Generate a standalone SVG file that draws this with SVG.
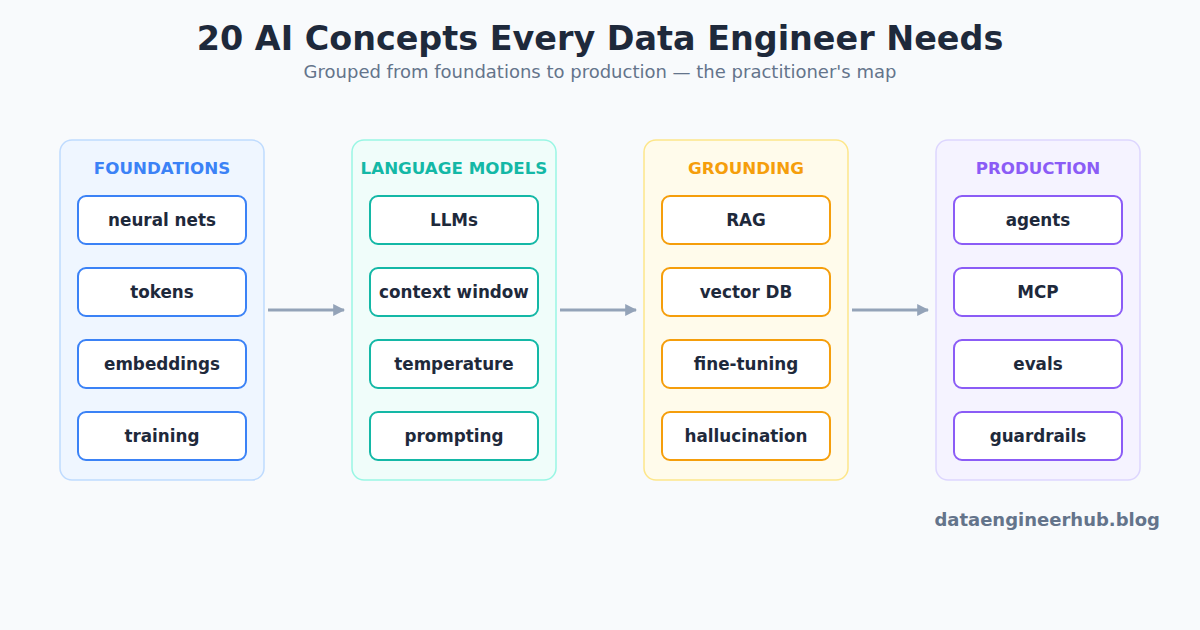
<svg xmlns="http://www.w3.org/2000/svg" width="1200" height="630" viewBox="0 0 1200 630">
<defs>
<marker id="arr" viewBox="0 0 10 10" refX="9" refY="5" markerWidth="4" markerHeight="4" orient="auto"><path d="M0,0 L10,5 L0,10 z" fill="#94a3b8"/></marker>
<style>
text{font-family:"DejaVu Sans","Noto Sans",sans-serif;text-anchor:middle}
.title{font-size:33.4px;font-weight:bold;fill:#1e293b}
.sub{font-size:18px;fill:#64748b}
.hdr{font-size:16.7px;font-weight:bold}
.lbl{font-size:16.8px;font-weight:bold;fill:#1e293b}
.col{stroke-width:1.5}
.item{fill:#ffffff;stroke-width:2}
.conn{stroke:#94a3b8;stroke-width:3;fill:none}
.foot{font-size:18px;font-weight:bold;fill:#64748b;text-anchor:end}
</style>
</defs>
<rect width="1200" height="630" fill="#f8fafc"/>
<text class="title" x="600" y="50">20 AI Concepts Every Data Engineer Needs</text>
<text class="sub" x="600" y="78">Grouped from foundations to production — the practitioner's map</text>

<g id="foundations">
<rect class="col" x="60" y="140" width="204" height="340" rx="12" fill="#eff6ff" stroke="#bfdbfe"/>
<text class="hdr" x="162" y="174" fill="#3b82f6">FOUNDATIONS</text>
<g stroke="#3b82f6">
<rect class="item" x="78" y="196" width="168" height="48" rx="8"/>
<rect class="item" x="78" y="268" width="168" height="48" rx="8"/>
<rect class="item" x="78" y="340" width="168" height="48" rx="8"/>
<rect class="item" x="78" y="412" width="168" height="48" rx="8"/>
</g>
<text class="lbl" x="162" y="226">neural nets</text>
<text class="lbl" x="162" y="298">tokens</text>
<text class="lbl" x="162" y="370">embeddings</text>
<text class="lbl" x="162" y="442">training</text>
</g>

<g id="language-models">
<rect class="col" x="352" y="140" width="204" height="340" rx="12" fill="#f0fdfa" stroke="#99f6e4"/>
<text class="hdr" x="454" y="174" fill="#14b8a6">LANGUAGE MODELS</text>
<g stroke="#14b8a6">
<rect class="item" x="370" y="196" width="168" height="48" rx="8"/>
<rect class="item" x="370" y="268" width="168" height="48" rx="8"/>
<rect class="item" x="370" y="340" width="168" height="48" rx="8"/>
<rect class="item" x="370" y="412" width="168" height="48" rx="8"/>
</g>
<text class="lbl" x="454" y="226">LLMs</text>
<text class="lbl" x="454" y="298">context window</text>
<text class="lbl" x="454" y="370">temperature</text>
<text class="lbl" x="454" y="442">prompting</text>
</g>

<g id="grounding">
<rect class="col" x="644" y="140" width="204" height="340" rx="12" fill="#fffbeb" stroke="#fde68a"/>
<text class="hdr" x="746" y="174" fill="#f59e0b">GROUNDING</text>
<g stroke="#f59e0b">
<rect class="item" x="662" y="196" width="168" height="48" rx="8"/>
<rect class="item" x="662" y="268" width="168" height="48" rx="8"/>
<rect class="item" x="662" y="340" width="168" height="48" rx="8"/>
<rect class="item" x="662" y="412" width="168" height="48" rx="8"/>
</g>
<text class="lbl" x="746" y="226">RAG</text>
<text class="lbl" x="746" y="298">vector DB</text>
<text class="lbl" x="746" y="370">fine-tuning</text>
<text class="lbl" x="746" y="442">hallucination</text>
</g>

<g id="production">
<rect class="col" x="936" y="140" width="204" height="340" rx="12" fill="#f5f3ff" stroke="#ddd6fe"/>
<text class="hdr" x="1038" y="174" fill="#8b5cf6">PRODUCTION</text>
<g stroke="#8b5cf6">
<rect class="item" x="954" y="196" width="168" height="48" rx="8"/>
<rect class="item" x="954" y="268" width="168" height="48" rx="8"/>
<rect class="item" x="954" y="340" width="168" height="48" rx="8"/>
<rect class="item" x="954" y="412" width="168" height="48" rx="8"/>
</g>
<text class="lbl" x="1038" y="226">agents</text>
<text class="lbl" x="1038" y="298">MCP</text>
<text class="lbl" x="1038" y="370">evals</text>
<text class="lbl" x="1038" y="442">guardrails</text>
</g>

<g id="connectors">
<line class="conn" x1="268" y1="310" x2="344" y2="310" marker-end="url(#arr)"/>
<line class="conn" x1="560" y1="310" x2="636" y2="310" marker-end="url(#arr)"/>
<line class="conn" x1="852" y1="310" x2="928" y2="310" marker-end="url(#arr)"/>
</g>

<text class="foot" x="1160" y="526">dataengineerhub.blog</text>
</svg>
